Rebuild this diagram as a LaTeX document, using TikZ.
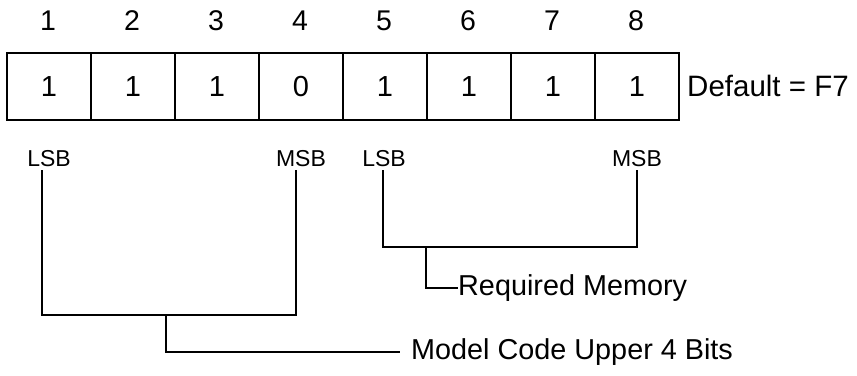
\documentclass[tikz,border=0pt]{standalone}
\usepackage{fontspec}
\setmainfont{Liberation Sans}
\begin{document}
\begin{tikzpicture}[x=1pt,y=-1pt,
  cell/.style={draw,line width=2pt,minimum width=84pt,minimum height=67pt,inner sep=0pt,anchor=north west,font=\fontsize{29}{34}\selectfont},
  idx/.style={inner sep=0pt,font=\fontsize{28.5}{33}\selectfont},
  bitlbl/.style={inner sep=0pt,font=\fontsize{23}{27}\selectfont},
  lbl/.style={inner sep=0pt,anchor=west,font=\fontsize{28.8}{34}\selectfont},
  conn/.style={line width=1.6pt}]
\useasboundingbox (0,0) rectangle (857,375);
\foreach \i/\v in {1/1,2/1,3/1,4/0,5/1,6/1,7/1,8/1}{
  \node[cell] (c\i) at ({6+84*(\i-1)},52) {\v};
  \node[idx] (n\i) at ({48+84*(\i-1)},21) {\i};
}
\node[lbl,font=\fontsize{29.5}{34}\selectfont] (def) at (687,86) {Default = F7};
\node[bitlbl] (l1) at (49,159) {LSB};
\node[bitlbl] (m1) at (301,159) {MSB};
\node[bitlbl] (l2) at (384,159) {LSB};
\node[bitlbl] (m2) at (637,159) {MSB};
\coordinate (a1) at (42,170);
\coordinate (b1) at (296,170);
\coordinate (a2) at (383,170);
\coordinate (b2) at (637,170);
\coordinate (j1) at (166,315);
\coordinate (j2) at (426,247);
\draw[conn] (a1) -- (42,315) -- (296,315) -- (b1);
\draw[conn] (a2) -- (383,247) -- (637,247) -- (b2);
\node[lbl] (mc) at (411,352) {Model Code Upper 4 Bits};
\node[lbl] (rm) at (458,288) {Required Memory};
\draw[conn] (j1) -- (j1 |- mc.west) -- (400,352);
\draw[conn] (j2) -- (j2 |- rm.west) -- (rm.west);
\end{tikzpicture}
\end{document}
